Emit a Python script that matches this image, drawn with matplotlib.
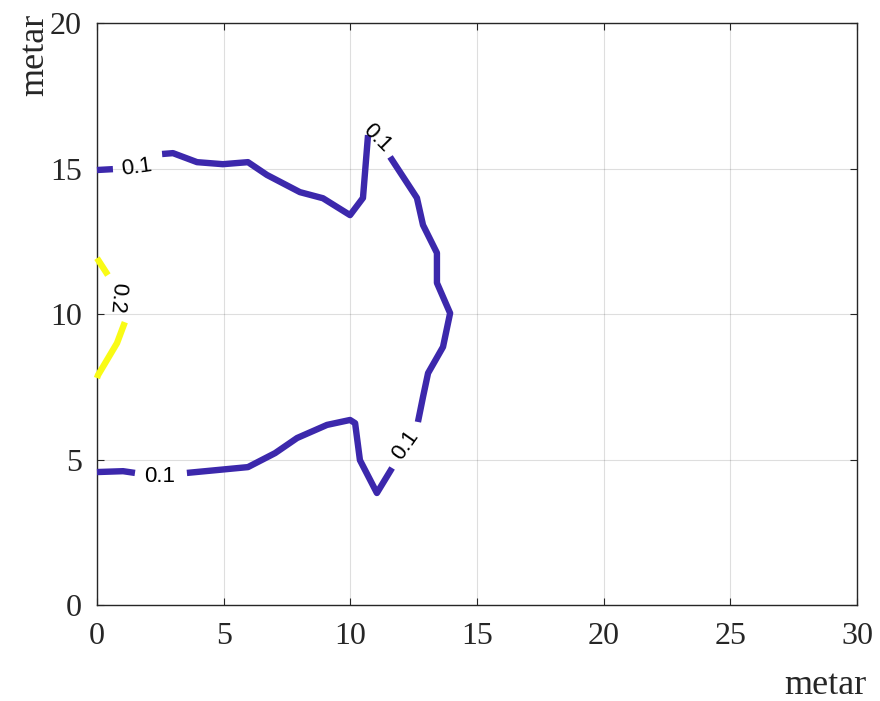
import matplotlib
matplotlib.use("Agg")
import matplotlib.pyplot as plt

# contour 0.1 (blue), split where the labels sit
top_left_x = [0.0, 0.63]
top_left_y = [14.95, 14.98]
top_mid_x = [2.57, 3.0, 3.95, 4.97, 5.96, 6.71, 8.01, 8.92, 9.99, 10.50, 10.70]
top_mid_y = [15.50, 15.53, 15.22, 15.15, 15.22, 14.78, 14.19, 13.98, 13.40, 13.99, 16.15]
right_x = [11.57, 12.63, 12.87, 13.42, 13.42, 13.94, 13.66, 13.07, 12.87, 12.67]
right_y = [15.40, 13.99, 13.06, 12.10, 11.07, 10.03, 8.87, 7.97, 7.15, 6.29]
low_mid_x = [11.65, 11.05, 10.38, 10.19, 9.99, 9.08, 7.90, 7.03, 5.96, 3.55]
low_mid_y = [4.71, 3.85, 4.98, 6.25, 6.36, 6.19, 5.74, 5.22, 4.74, 4.54]
low_left_x = [1.50, 1.03, 0.0]
low_left_y = [4.54, 4.60, 4.57]

# contour 0.2 (yellow)
yel_top_x = [0.0, 0.43]
yel_top_y = [11.92, 11.34]
yel_low_x = [1.10, 0.79, 0.04, 0.0]
yel_low_y = [9.72, 9.00, 7.90, 7.80]

# label positions (x, y, text, rotation)
labels = [
    (1.58, 15.05, "0.1", 8),
    (11.05, 16.05, "0.1", -45),
    (12.16, 5.50, "0.1", 55),
    (2.49, 4.40, "0.1", 0),
    (0.79, 10.55, "0.2", -95),
]

blue = "#3C28AC"
yellow = "#F9FB15"
axc = "#262626"

fig = plt.figure(figsize=(8.8, 7.01), dpi=100)
ax = fig.add_axes([0.1102, 0.1369, 0.8636, 0.8302])

for xs, ys in [(top_left_x, top_left_y), (top_mid_x, top_mid_y), (right_x, right_y),
               (low_mid_x, low_mid_y), (low_left_x, low_left_y)]:
    ax.plot(xs, ys, color=blue, lw=4.6, solid_capstyle="butt",
            solid_joinstyle="round", clip_on=False, zorder=3)
for xs, ys in [(yel_top_x, yel_top_y), (yel_low_x, yel_low_y)]:
    ax.plot(xs, ys, color=yellow, lw=4.6, solid_capstyle="butt",
            solid_joinstyle="round", clip_on=False, zorder=3)

for x, y, s, r in labels:
    ax.text(x, y, s, rotation=r, ha="center", va="center", fontsize=16,
            family=["Liberation Sans", "DejaVu Sans"], color="black",
            rotation_mode="anchor", zorder=4)

ax.set_xlim(0, 30)
ax.set_ylim(0, 20)
ax.set_xticks(range(0, 31, 5))
ax.set_yticks(range(0, 21, 5))
ax.grid(True, color="#000000", alpha=0.13, lw=0.8)
ax.set_axisbelow(True)

for sp in ax.spines.values():
    sp.set_color(axc)
    sp.set_linewidth(1.0)
ax.tick_params(direction="in", length=5, width=0.8, color=axc, top=True, right=True,
               labelsize=23, labelcolor=axc)
ax.tick_params(axis="x", pad=12)
ax.tick_params(axis="y", pad=11)
for lab in ax.get_xticklabels() + ax.get_yticklabels():
    lab.set_family("Liberation Serif")

fig.text(0.040, 0.922, "metar", rotation=90, ha="center", va="center",
         fontsize=26, family="Liberation Serif", color=axc)
fig.text(0.9375, 0.0228, "metar", ha="center", va="center",
         fontsize=26, family="Liberation Serif", color=axc)

fig.savefig("out.png", dpi=100)
